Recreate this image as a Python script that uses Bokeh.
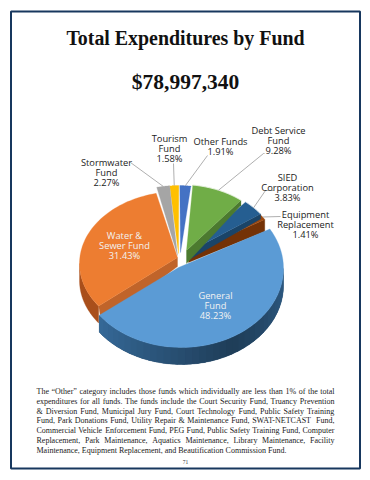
import numpy as np
from bokeh.plotting import figure
from bokeh.embed import file_html
from bokeh.resources import INLINE
from bokeh.models import Range1d
from bokeh.core.properties import value

title_text = "Total Expenditures by Fund"
total_text = "$78,997,340"
# clockwise from the General Fund
categories = ["General Fund", "Water & Sewer Fund", "Stormwater Fund", "Tourism Fund",
              "Other Funds", "Debt Service Fund", "SIED Corporation", "Equipment Replacement"]
values = [48.23, 31.43, 2.27, 1.58, 1.91, 9.28, 3.83, 1.41]
label_lines = [["General", "Fund"], ["Water &", "Sewer Fund"], ["Stormwater", "Fund"], ["Tourism", "Fund"],
               ["Other Funds"], ["Debt Service", "Fund"], ["SIED", "Corporation"], ["Equipment", "Replacement"]]
colors = ["#5B9BD5", "#ED7D31", "#A5A5A5", "#FFC000", "#4472C4", "#70AD47", "#255E91", "#9E480E"]
wall_colors = ["#2B5A82", "#B9591F", "#6E6E6E", "#A67C00", "#2A4A80", "#4C7A2F", "#1A4468", "#743206"]
note_lines = [
    "The “Other” category includes those funds which individually are less than 1% of the total",
    "expenditures for all funds.  The funds include the Court Security Fund, Truancy Prevention",
    "& Diversion Fund, Municipal Jury Fund, Court Technology Fund, Public Safety Training",
    "Fund, Park Donations Fund, Utility Repair & Maintenance Fund, SWAT-NETCAST Fund,",
    "Commercial Vehicle Enforcement Fund, PEG Fund, Public Safety Training Fund, Computer",
    "Replacement, Park Maintenance, Aquatics Maintenance, Library Maintenance, Facility",
    "Maintenance, Equipment Replacement, and Beautification Commission Fund.",
]
page_number = "71"

# layout of each slice: ellipse centre, radii, apex, wall depth
ell_cx = [181, 178, 177, 177, 178, 180, 184, 182]
ell_cy = [268, 263, 255, 255, 255, 248, 252, 252]
ell_a = [102, 99, 92, 92, 92, 92, 93, 95]
ell_b = [79, 72, 70, 70, 70, 64, 67, 66]
apex_x = [178, 177, 177, 178, 180, 186, 187, 188]
apex_y = [267, 257, 255, 253, 252, 250, 252, 253]
label_x = [215, 124, 106, 169, 220, 278, 287, 305]
label_y = [295, 235, 162, 138, 141, 130, 177, 214]
label_color = ["#F2F2F2", "#F2F2F2", "#222222", "#222222", "#222222", "#222222", "#222222", "#222222"]
leader_from = [None, None, (130, 162), (173, 163), (207, 155), (264, 153), (273, 190), (280, 216)]
leader_knee = [None, None, None, None, None, (263, 153), (265, 190), None]
START = 30.0

W, H = 362, 472
p = figure(width=W, height=H, output_backend="svg", toolbar_location=None,
           x_range=Range1d(0, W), y_range=Range1d(H, 0), min_border=0,
           outline_line_color=None, background_fill_color="white", border_fill_color="white")
p.axis.visible = False
p.grid.visible = False


def arc(i, t1, t2, n=60):
    t = np.radians(np.linspace(t1, t2, n))
    return ell_cx[i] + ell_a[i] * np.cos(t), ell_cy[i] - ell_b[i] * np.sin(t)


frac = np.array(values) / sum(values) * 360
edges = START - np.concatenate([[0], np.cumsum(frac)])
spans = [(edges[i], edges[i + 1]) for i in range(len(values))]


def fill(xs, ys, color, lw=0.3):
    p.patch(list(xs), list(ys), fill_color=color, line_color=color, line_width=lw)


def radial_wall(i, t, depth, color, end_depth=None):
    x, y = arc(i, t, t, 1)
    d2 = depth if end_depth is None else end_depth
    fill([apex_x[i], x[0], x[0], apex_x[i]],
         [apex_y[i], y[0], y[0] + d2, apex_y[i] + depth], color)


# far-side slices first, then the big ones on top
for i in [7, 6, 5, 4, 3, 2]:
    t1, t2 = spans[i]
    ax, ay = arc(i, t1, t2)
    if i == 7:
        radial_wall(i, t2, 9, wall_colors[i], 12)
    if i == 6:
        radial_wall(i, t2, 8, wall_colors[i], 5)
    if i == 5:
        radial_wall(i, t2, 13, wall_colors[i], 5)
    fill(np.r_[apex_x[i], ax], np.r_[apex_y[i], ay], colors[i])
    if i in (5, 6):
        p.line(list(ax), list(ay), line_color="white", line_width=0.8)

# Water & Sewer: outer wall and cut wall
i = 1
t1, t2 = spans[i]
ox, oy = arc(i, 180, 360 + t1, 40)
fill(np.r_[ox, ox[::-1]], np.r_[oy, oy[::-1] + 17], "#A94F1B")
tx, ty = ox[-1], oy[-1]
fill([apex_x[i], tx, tx + 3, apex_x[i]], [apex_y[i], ty, ty + 18, apex_y[i] + 9], "#C0642A")
ax, ay = arc(i, t1, t2)
fill(np.r_[apex_x[i], ax], np.r_[apex_y[i], ay], colors[i])

# General Fund: outer wall shaded piece by piece over a solid base, then the top
i = 0
t1, t2 = spans[i]
bx, by = arc(i, 0, t2, 90)
fill(np.r_[bx, bx[::-1]], np.r_[by, by[::-1] + 17], "#274C6E")
steps = np.r_[np.arange(0, t2, -4.0), t2]
for a1, a2 in zip(steps[:-1], steps[1:]):
    sx, sy = arc(i, a1, max(a2 - 1.5, t2), 4)
    m = -(a1 + a2) / 2
    k = min(abs(m - 60) / 80, 1)
    c = np.array([0x1F, 0x3D, 0x58]) * (1 - k) + np.array([0x35, 0x68, 0x96]) * k
    col = "#%02X%02X%02X" % tuple(int(v) for v in c)
    p.patch(list(np.r_[sx, sx[::-1]]), list(np.r_[sy, sy[::-1] + 17]), fill_color=col, line_color=None)
ax, ay = arc(i, t1, t2)
fill(np.r_[apex_x[i], ax], np.r_[apex_y[i], ay], colors[i])

# leaders
for i in range(len(values)):
    if leader_from[i] is None:
        continue
    mid = (spans[i][0] + spans[i][1]) / 2
    mx, my = arc(i, mid, mid, 1)
    xs, ys = [leader_from[i][0]], [leader_from[i][1]]
    if leader_knee[i]:
        xs.append(leader_knee[i][0]); ys.append(leader_knee[i][1])
    xs.append(float(mx[0])); ys.append(float(my[0]))
    p.line(xs, ys, line_color="#8C8C8C", line_width=0.7)

# labels
for i in range(len(values)):
    lines = label_lines[i] + ["%.2f%%" % values[i]]
    for j, s in enumerate(lines):
        p.text([label_x[i]], [label_y[i] + j * 10.2], text=[s], text_align="center", text_baseline="middle",
               text_font=value("Open Sans"), text_font_size="9.3px", text_color=label_color[i])

# frame
p.quad(left=[10.5], right=[359.5], top=[11], bottom=[468], fill_color=None, line_color="#17375E", line_width=2)

# headings
p.text([185], [37], text=[title_text], text_align="center", text_baseline="middle",
       text_font=value("Liberation Serif"), text_font_style="bold", text_font_size="19.9px", text_color="#111111")
p.text([185], [81.5], text=[total_text], text_align="center", text_baseline="middle",
       text_font=value("Liberation Serif"), text_font_style="bold", text_font_size="21.5px", text_color="#111111")

# justified note, word by word, using Times metrics
TW = dict(zip("abcdefghijklmnopqrstuvwxyz",
              [444,500,444,500,444,333,500,500,278,278,500,278,778,500,500,500,500,333,389,278,500,500,722,500,500,444]))
TW.update(dict(zip("ABCDEFGHIJKLMNOPQRSTUVWXYZ",
                   [722,667,667,722,611,556,722,722,333,389,722,611,889,722,722,556,722,667,556,611,722,722,944,722,722,611])))
TW.update({"&": 778, "-": 333, ".": 250, ",": 250, "1": 500, "%": 833, "“": 444, "”": 444})
FS = 8.0
LEFT, RIGHT = 36.0, 334.0


def w_of(s):
    return sum(TW.get(c, 500) for c in s) / 1000 * FS


for n, line in enumerate(note_lines):
    words = line.split()
    total = sum(w_of(w) for w in words)
    gap = (RIGHT - LEFT - total) / (len(words) - 1) if n < len(note_lines) - 1 else 0.25 * FS
    x = LEFT
    y = 391 + n * 9.75
    xs, ts = [], []
    for w in words:
        xs.append(x)
        ts.append(w)
        x += w_of(w) + gap
    p.text(xs, [y] * len(xs), text=ts, text_align="left", text_baseline="middle",
           text_font=value("Liberation Serif"), text_font_size=f"{FS}px", text_color="#1a1a1a")

p.text([185], [461], text=[page_number], text_align="center", text_baseline="middle",
       text_font=value("Liberation Serif"), text_font_size="5.5px", text_color="#333333")

open("out.html", "w").write(file_html(p, INLINE))
